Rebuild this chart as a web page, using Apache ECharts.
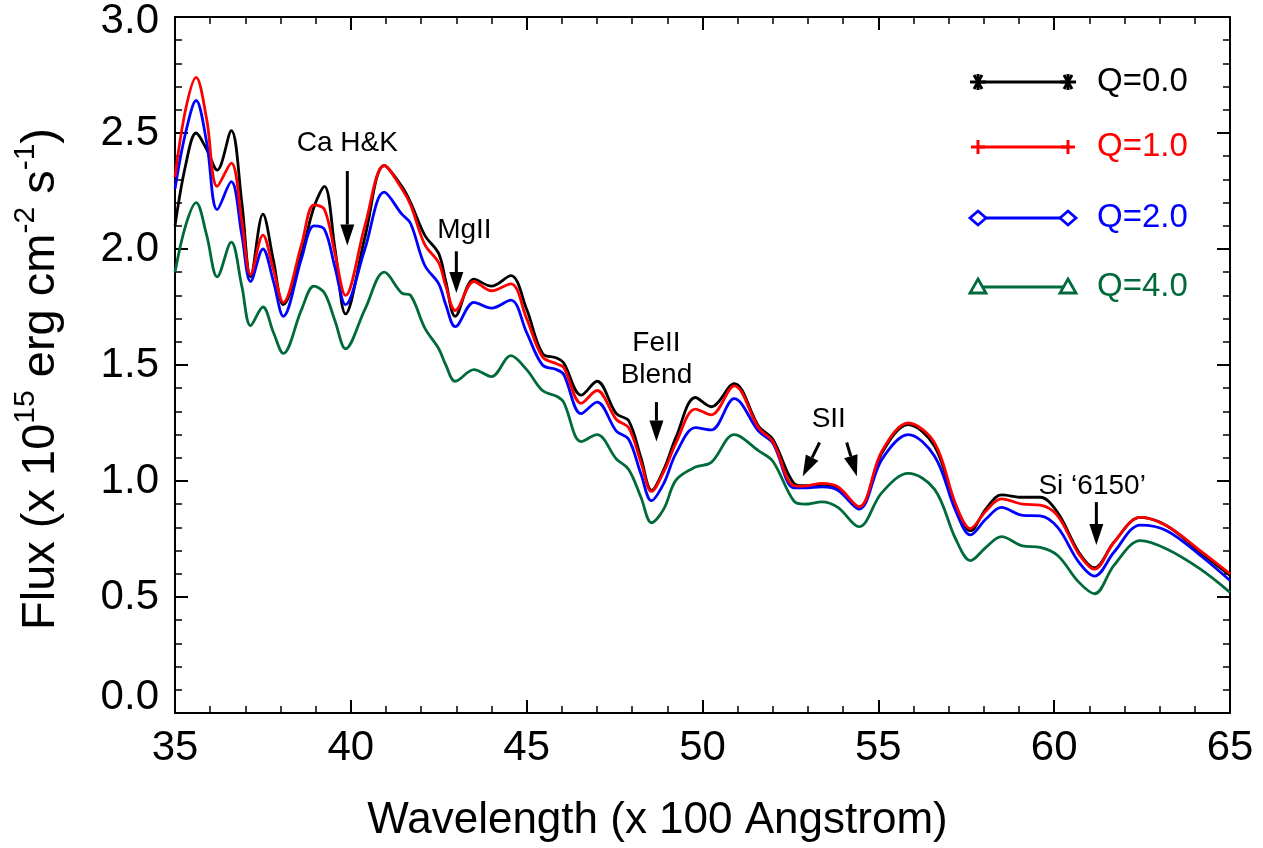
<!DOCTYPE html>
<html>
<head>
<meta charset="utf-8">
<script src="https://cdn.jsdelivr.net/npm/echarts@6/dist/echarts.min.js"></script>
<style>
html,body{margin:0;padding:0;background:#fff;}
#chart{width:1263px;height:848px;}
</style>
</head>
<body>
<div id="chart"></div>
<script>
// ---- data (wavelength in units of 100 Angstrom, flux in 1e-15 erg cm^-2 s^-1) ----
var wavelength = [35.0, 35.3, 35.6, 35.9, 36.2, 36.6, 36.9, 37.15, 37.5, 37.8, 38.08, 38.6, 38.95, 39.25, 39.55, 39.85, 40.4, 40.95, 41.45, 41.7, 42.1, 42.5, 42.7, 42.97, 43.5, 44.0, 44.55, 45.0, 45.45, 45.85, 46.05, 46.55, 47.0, 47.55, 47.9, 48.25, 48.55, 48.9, 49.25, 49.8, 50.25, 50.9, 51.6, 52.0, 52.6, 52.9, 53.4, 53.85, 54.45, 55.1, 55.85, 56.6, 57.2, 57.62, 58.06, 58.5, 59.1, 59.6, 60.1, 60.7, 61.15, 61.7, 62.45, 63.2, 64.15, 65.0];
var fluxQ0 = [2.10, 2.36, 2.50, 2.43, 2.34, 2.51, 2.20, 1.88, 2.15, 1.95, 1.76, 1.98, 2.18, 2.27, 2.00, 1.72, 2.05, 2.36, 2.27, 2.20, 2.06, 1.98, 1.86, 1.71, 1.87, 1.84, 1.885, 1.74, 1.55, 1.53, 1.51, 1.37, 1.43, 1.29, 1.26, 1.10, 0.96, 1.05, 1.19, 1.36, 1.32, 1.42, 1.235, 1.18, 0.99, 0.98, 0.985, 0.97, 0.885, 1.12, 1.243, 1.15, 0.89, 0.786, 0.88, 0.94, 0.93, 0.93, 0.864, 0.693, 0.626, 0.736, 0.843, 0.807, 0.693, 0.593];
var fluxQ1 = [2.31, 2.60, 2.74, 2.56, 2.27, 2.37, 2.12, 1.89, 2.06, 1.91, 1.77, 2.02, 2.19, 2.17, 1.98, 1.80, 2.10, 2.36, 2.26, 2.19, 2.02, 1.94, 1.84, 1.735, 1.86, 1.82, 1.85, 1.70, 1.535, 1.505, 1.49, 1.335, 1.39, 1.265, 1.23, 1.08, 0.955, 1.04, 1.165, 1.31, 1.285, 1.41, 1.228, 1.17, 0.98, 0.978, 0.99, 0.975, 0.889, 1.128, 1.25, 1.164, 0.90, 0.795, 0.871, 0.923, 0.90, 0.896, 0.85, 0.686, 0.62, 0.736, 0.843, 0.807, 0.70, 0.60];
var fluxQ2 = [2.26, 2.50, 2.64, 2.46, 2.17, 2.29, 2.06, 1.86, 2.00, 1.86, 1.71, 1.96, 2.10, 2.085, 1.92, 1.76, 2.00, 2.245, 2.15, 2.11, 1.93, 1.85, 1.76, 1.665, 1.77, 1.745, 1.78, 1.64, 1.50, 1.48, 1.46, 1.29, 1.34, 1.215, 1.18, 1.03, 0.915, 0.99, 1.12, 1.23, 1.22, 1.355, 1.214, 1.164, 0.97, 0.97, 0.975, 0.96, 0.879, 1.093, 1.20, 1.107, 0.871, 0.768, 0.836, 0.886, 0.852, 0.85, 0.80, 0.65, 0.59, 0.693, 0.81, 0.786, 0.68, 0.571];
var fluxQ4 = [1.90, 2.10, 2.20, 2.06, 1.88, 2.03, 1.84, 1.67, 1.75, 1.64, 1.55, 1.74, 1.84, 1.81, 1.69, 1.57, 1.74, 1.90, 1.81, 1.80, 1.66, 1.57, 1.50, 1.43, 1.48, 1.45, 1.54, 1.48, 1.39, 1.365, 1.34, 1.17, 1.20, 1.095, 1.05, 0.93, 0.82, 0.88, 1.005, 1.06, 1.08, 1.20, 1.13, 1.085, 0.913, 0.90, 0.91, 0.886, 0.803, 0.95, 1.033, 0.964, 0.75, 0.657, 0.714, 0.76, 0.72, 0.714, 0.679, 0.564, 0.514, 0.636, 0.743, 0.707, 0.621, 0.52];
var seriesNames = ['Q=0.0', 'Q=1.0', 'Q=2.0', 'Q=4.0'];
var seriesColors = ['#000000', '#ff0000', '#0000ff', '#006a3a'];
var xTicks = [35, 40, 45, 50, 55, 60, 65];
var yTicks = [0.0, 0.5, 1.0, 1.5, 2.0, 2.5, 3.0];

// annotations: text lines and arrows (data coordinates)
var annoTexts = [
  {text: 'Ca H&K', x: 39.9, y: 2.456},
  {text: 'MgII', x: 43.23, y: 2.08},
  {text: 'FeII', x: 48.69, y: 1.594},
  {text: 'Blend', x: 48.69, y: 1.457},
  {text: 'SII', x: 53.59, y: 1.264},
  {text: 'Si \u20186150\u2019', x: 61.08, y: 0.977}
];
var annoArrows = [
  {from: [39.9, 2.336], to: [39.9, 2.015]},
  {from: [43.0, 1.99], to: [43.0, 1.81]},
  {from: [48.69, 1.34], to: [48.69, 1.17]},
  {from: [53.33, 1.166], to: [52.85, 1.02]},
  {from: [54.1, 1.166], to: [54.39, 1.02]},
  {from: [61.2, 0.909], to: [61.2, 0.724]}
];

var FONT = '"Liberation Sans", Arial, sans-serif';
var chart = echarts.init(document.getElementById('chart'), null, {renderer: 'canvas'});

var allFlux = [fluxQ0, fluxQ1, fluxQ2, fluxQ4];
var series = allFlux.map(function (arr, i) {
  return {
    name: seriesNames[i],
    type: 'line',
    xAxisIndex: 0, yAxisIndex: 0,
    data: wavelength.map(function (w, k) { return [w, arr[k]]; }),
    smooth: 0.35,
    showSymbol: false,
    lineStyle: {color: seriesColors[i], width: 2.8},
    itemStyle: {color: seriesColors[i]}
  };
});
series[0].z = 7; series[1].z = 9; series[2].z = 8; series[3].z = 6;

function axisCommon(showLabel) {
  return {
    axisLine: {show: true, onZero: false, lineStyle: {color: '#000', width: 2}},
    axisTick: {show: true, inside: true, length: 13, lineStyle: {color: '#000', width: 2}},
    minorTick: {show: true, splitNumber: 5, length: 7, lineStyle: {color: '#000', width: 1.5}},
    splitLine: {show: false},
    minorSplitLine: {show: false},
    axisLabel: {show: showLabel, color: '#000', fontSize: 42, fontFamily: FONT}
  };
}

var xBottom = Object.assign({type: 'value', position: 'bottom', min: xTicks[0], max: xTicks[xTicks.length - 1], interval: 5,
  name: 'Wavelength (x 100 Angstrom)', nameLocation: 'middle', nameGap: 86,
  nameTextStyle: {color: '#000', fontSize: 44, fontFamily: FONT, padding: [0, 90, 0, 0]}}, axisCommon(true));
xBottom.axisLabel.margin = 14;
var xTop = Object.assign({type: 'value', position: 'top', min: xTicks[0], max: xTicks[xTicks.length - 1], interval: 5}, axisCommon(false));
var yLeft = Object.assign({type: 'value', position: 'left', min: yTicks[0], max: yTicks[yTicks.length - 1], interval: 0.5,
  name: '{n|Flux (x 10}{s|15}{n| erg cm}{s|-2}{n| s}{s|-1}{n|)}', nameLocation: 'middle', nameGap: 110, nameRotate: 90,
  nameTextStyle: {color: '#000', fontSize: 47, fontFamily: FONT, padding: [0, 28, 0, 0],
    rich: {n: {fontSize: 47, fontFamily: FONT, color: '#000', verticalAlign: 'bottom', lineHeight: 54},
           s: {fontSize: 30, fontFamily: FONT, color: '#000', verticalAlign: 'top', padding: [0, 0, 24, 0], lineHeight: 54}}}}, axisCommon(true));
yLeft.axisLabel.formatter = function (v) {
  var s = v.toFixed(1);
  if (v === 0) return '{lo|' + s + '}';
  if (v === 3) return '{hi|' + s + '}';
  return s;
};
yLeft.axisLabel.rich = {
  lo: {fontSize: 42, fontFamily: FONT, color: '#000', padding: [0, 0, 32, 0]},
  hi: {fontSize: 42, fontFamily: FONT, color: '#000', padding: [8, 0, 0, 0]}
};
yLeft.axisLabel.margin = 16;
var yRight = Object.assign({type: 'value', position: 'right', min: yTicks[0], max: yTicks[yTicks.length - 1], interval: 0.5}, axisCommon(false));

chart.setOption({
  backgroundColor: '#fff',
  animation: false,
  grid: {left: 175, right: 33, top: 15, bottom: 133, containLabel: false},
  xAxis: [xBottom, xTop],
  yAxis: [yLeft, yRight],
  series: series
});

// ---------- annotations & legend as graphics ----------
function px(p) { return chart.convertToPixel({xAxisIndex: 0, yAxisIndex: 0}, p); }
var g = [];
annoTexts.forEach(function (t) {
  var p = px([t.x, t.y]);
  g.push({type: 'text', x: p[0], y: p[1], z: 50,
    style: {text: t.text, fill: '#000', font: '28px ' + FONT, textAlign: 'center', textVerticalAlign: 'middle'}});
});
annoArrows.forEach(function (a) {
  var s = px(a.from), e = px(a.to);
  var dx = e[0] - s[0], dy = e[1] - s[1];
  var L = Math.sqrt(dx * dx + dy * dy); var ux = dx / L, uy = dy / L;
  var hl = 21, hw = 7;
  var bx = e[0] - ux * hl, by = e[1] - uy * hl;
  g.push({type: 'line', z: 50, shape: {x1: s[0], y1: s[1], x2: bx, y2: by}, style: {stroke: '#000', lineWidth: 3}});
  g.push({type: 'polygon', z: 50, shape: {points: [[e[0], e[1]], [bx - uy * hw, by + ux * hw], [bx + uy * hw, by - ux * hw]]},
    style: {fill: '#000'}});
});

// legend
var legY = [82, 147, 218, 287];
var legX1 = 978, legX2 = 1068, legText = 1097;
function sym(kind, cx, cy, color) {
  var out = [];
  var st = {stroke: color, lineWidth: 3, fill: null};
  if (kind === 'star') {
    var r = 8;
    [30, 90, 150].forEach(function (deg) {
      var a = deg * Math.PI / 180;
      out.push({type: 'line', z: 60, shape: {x1: cx - r * Math.sin(a), y1: cy - r * Math.cos(a), x2: cx + r * Math.sin(a), y2: cy + r * Math.cos(a)}, style: st});
    });
    out.push({type: 'line', z: 60, shape: {x1: cx, y1: cy - 8, x2: cx, y2: cy + 8}, style: st});
  } else if (kind === 'plus') {
    out.push({type: 'line', z: 60, shape: {x1: cx - 7, y1: cy, x2: cx + 7, y2: cy}, style: st});
    out.push({type: 'line', z: 60, shape: {x1: cx, y1: cy - 7, x2: cx, y2: cy + 7}, style: st});
  } else if (kind === 'diamond') {
    out.push({type: 'polygon', z: 60, shape: {points: [[cx, cy - 7], [cx + 8, cy], [cx, cy + 7], [cx - 8, cy]]}, style: {stroke: color, lineWidth: 2.8, fill: '#fff'}});
  } else if (kind === 'triangle') {
    out.push({type: 'polygon', z: 60, shape: {points: [[cx, cy - 8], [cx + 8, cy + 6], [cx - 8, cy + 6]]}, style: {stroke: color, lineWidth: 2.8, fill: '#fff'}});
  }
  return out;
}
var kinds = ['star', 'plus', 'diamond', 'triangle'];
seriesNames.forEach(function (n, i) {
  var y = legY[i];
  g.push({type: 'line', z: 55, shape: {x1: legX1, y1: y, x2: legX2, y2: y}, style: {stroke: seriesColors[i], lineWidth: 2.8}});
  g = g.concat(sym(kinds[i], legX1, y, seriesColors[i]));
  g = g.concat(sym(kinds[i], legX2, y, seriesColors[i]));
  g.push({type: 'text', x: legText, y: y, z: 60,
    style: {text: n, fill: seriesColors[i], font: '33px ' + FONT, textAlign: 'left', textVerticalAlign: 'middle'}});
});
chart.setOption({graphic: g});
</script>
</body>
</html>
